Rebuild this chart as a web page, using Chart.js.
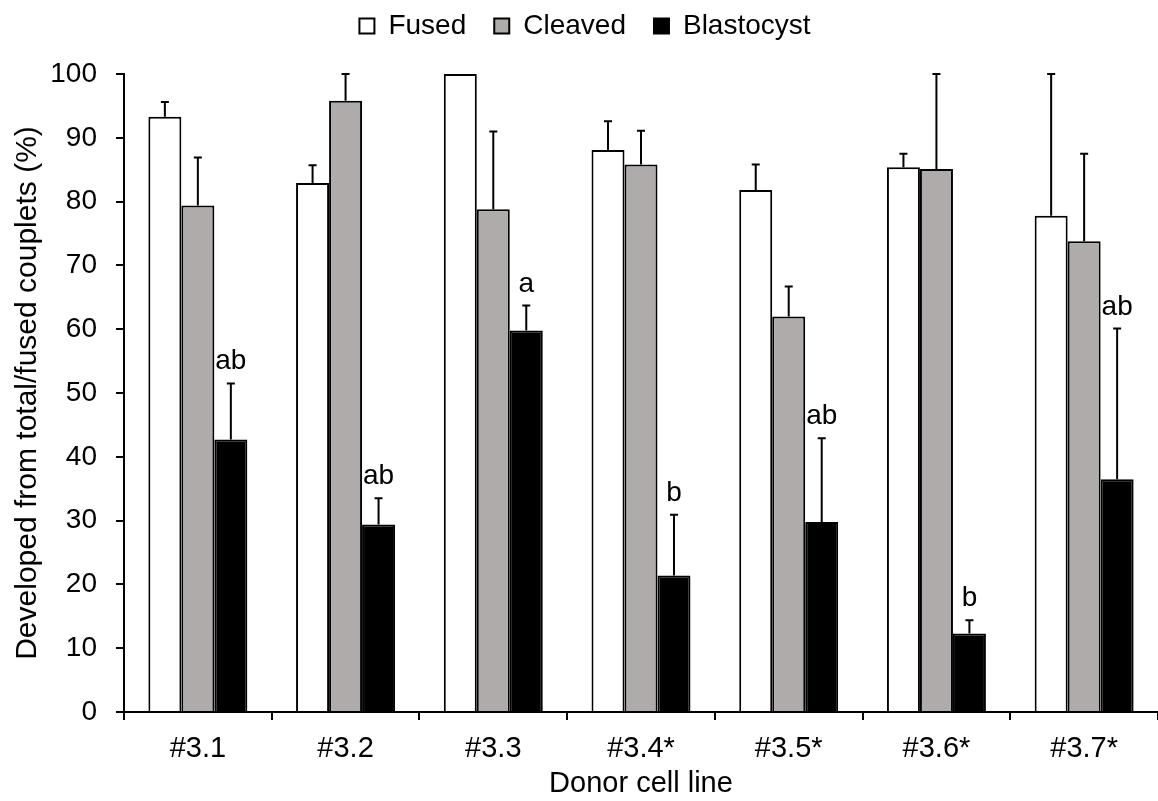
<!DOCTYPE html>
<html>
<head>
<meta charset="utf-8">
<script src="https://cdn.jsdelivr.net/npm/chart.js@4/dist/chart.umd.min.js"></script>
<style>
    html, body { margin: 0; padding: 0; background: #fff; }
    #wrap { width: 1158px; height: 801px; position: relative; }
</style>
</head>
<body>
<div id="wrap"><canvas id="devChart"></canvas></div>
<script>
// Donor cell lines
const cellLines = ['#3.1', '#3.2', '#3.3', '#3.4*', '#3.5*', '#3.6*', '#3.7*'];

// Means (%)
const fused = [93.3, 82.9, 100, 88.1, 81.8, 85.4, 77.8];
const cleaved = [79.4, 95.8, 78.8, 85.8, 62.0, 85.1, 73.8];
const blastocyst = [42.7, 29.4, 59.8, 21.4, 29.8, 12.3, 36.5];

// Upper error (SD)
const fusedErr = [2.3, 2.8, 0, 4.5, 4.0, 2.1, 22.2];
const cleavedErr = [7.5, 4.2, 12.2, 5.3, 4.7, 14.9, 13.7];
const blastocystErr = [8.8, 4.1, 3.9, 9.5, 13.1, 2.1, 23.6];

// Significance letters above blastocyst bars
const blastLetters = ['ab', 'ab', 'a', 'b', 'ab', 'b', 'ab'];

const FONT = 'Liberation Sans, Arial, sans-serif';

// draws upward error bars and the letters
const errorBars = {
    id: 'errorBars',
    afterDatasetsDraw(chart) {
        const ctx = chart.ctx;
        const yScale = chart.scales.y;
        ctx.save();
        chart.data.datasets.forEach((ds, i) => {
            const meta = chart.getDatasetMeta(i);
            meta.data.forEach((bar, j) => {
                const err = ds.errors[j];
                const top = yScale.getPixelForValue(ds.data[j] + err);
                if (err > 0) {
                    ctx.strokeStyle = '#000';
                    ctx.lineWidth = 2;
                    ctx.beginPath();
                    ctx.moveTo(bar.x, bar.y);
                    ctx.lineTo(bar.x, top);
                    ctx.moveTo(bar.x - 4, top);
                    ctx.lineTo(bar.x + 4, top);
                    ctx.stroke();
                }
                if (ds.letters) {
                    ctx.fillStyle = '#000';
                    ctx.font = '28px ' + FONT;
                    ctx.textAlign = 'center';
                    ctx.textBaseline = 'alphabetic';
                    ctx.fillText(ds.letters[j], bar.x, top - 14);
                }
            });
        });
        ctx.restore();
    }
};

// legend: fixed height, drawn a bit higher
const legendSpace = {
    id: 'legendSpace',
    beforeInit(chart) {
        const lg = chart.legend;
        if (!lg) return;
        const fit = lg.fit;
        lg.fit = function () {
            fit.call(this);
            this.height = 74;
        };
        const draw = lg.draw;
        lg.draw = function () {
            this.ctx.save();
            this.ctx.translate(6, -16);
            draw.call(this);
            this.ctx.restore();
        };
    }
};

new Chart(document.getElementById('devChart'), {
    type: 'bar',
    data: {
        labels: cellLines,
        datasets: [{
            label: 'Fused',
            data: fused,
            errors: fusedErr,
            backgroundColor: '#ffffff',
            borderColor: '#000',
            borderWidth: 2
        }, {
            label: 'Cleaved',
            data: cleaved,
            errors: cleavedErr,
            backgroundColor: '#afabab',
            borderColor: '#000',
            borderWidth: 2
        }, {
            label: 'Blastocyst',
            data: blastocyst,
            errors: blastocystErr,
            letters: blastLetters,
            backgroundColor: '#000',
            borderColor: '#000',
            borderWidth: 2
        }]
    },
    options: {
        responsive: true,
        maintainAspectRatio: false,
        animation: false,
        layout: { padding: { left: 0, right: 0, top: 0, bottom: 0 } },
        datasets: {
            bar: { categoryPercentage: 0.67, barPercentage: 1.0 }
        },
        plugins: {
            legend: {
                display: true,
                position: 'top',
                labels: {
                    color: '#000',
                    font: { family: FONT, size: 28 },
                    boxWidth: 15,
                    boxHeight: 15,
                    padding: 28
                }
            },
            tooltip: { enabled: false }
        },
        scales: {
            x: {
                grid: {
                    drawOnChartArea: false,
                    color: '#000',
                    lineWidth: 2,
                    tickLength: 8
                },
                border: { color: '#000', width: 2 },
                ticks: {
                    color: '#000',
                    font: { family: FONT, size: 29 },
                    padding: 12
                },
                title: {
                    display: true,
                    text: 'Donor cell line',
                    color: '#000',
                    font: { family: FONT, size: 29 },
                    padding: { top: 0, bottom: 0 }
                },
                afterFit(scale) { scale.height = 89; }
            },
            y: {
                min: 0,
                max: 100,
                ticks: {
                    stepSize: 10,
                    color: '#000',
                    font: { family: FONT, size: 28 },
                    padding: 19
                },
                grid: {
                    drawOnChartArea: false,
                    color: '#000',
                    lineWidth: 2,
                    tickLength: 8
                },
                border: { color: '#000', width: 2 },
                title: {
                    display: true,
                    text: 'Developed from total/fused couplets (%)',
                    color: '#000',
                    font: { family: FONT, size: 30 },
                    padding: { top: 10, bottom: 0 }
                },
                afterFit(scale) { scale.width = 124; }
            }
        }
    },
    plugins: [errorBars, legendSpace]
});
</script>
</body>
</html>
